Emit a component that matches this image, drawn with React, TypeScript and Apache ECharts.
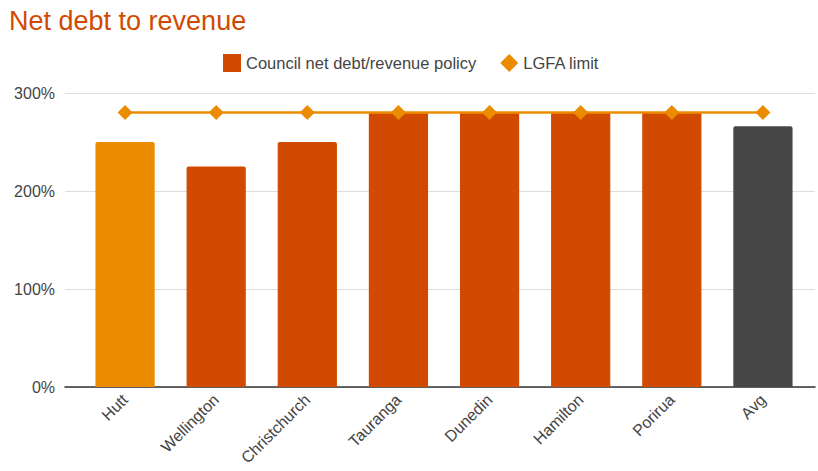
import React, { useEffect, useRef } from "react";
import * as echarts from "echarts";

const categories = ["Hutt", "Wellington", "Christchurch", "Tauranga", "Dunedin", "Hamilton", "Porirua", "Avg"];
const policyValues = [250, 225, 250, 280, 280, 280, 280, 266];
const lgfaLimit = [280, 280, 280, 280, 280, 280, 280, 280];
const barColors = ["#eb8c00", "#d04a02", "#d04a02", "#d04a02", "#d04a02", "#d04a02", "#d04a02", "#464646"];
const yTicks = [0, 100, 200, 300];

export default function App() {
  const ref = useRef<HTMLDivElement>(null);
  useEffect(() => {
    const chart = echarts.init(ref.current!, undefined, { renderer: "svg" });
    const font = "Arial, 'Liberation Sans', sans-serif";
    chart.setOption({
      animation: false,
      textStyle: { fontFamily: font },
      title: {
        text: "Net debt to revenue",
        left: 4,
        top: 2,
        textStyle: { color: "#d04a02", fontSize: 27, fontWeight: "normal", fontFamily: font },
      },
      legend: {
        top: 49,
        left: 218,
        itemWidth: 18,
        itemHeight: 18,
        itemGap: 24,
        textStyle: { color: "#444", fontSize: 16.5, fontFamily: font },
        data: [
          { name: "Council net debt/revenue policy", icon: "rect", itemStyle: { color: "#d04a02" } },
          { name: "LGFA limit", icon: "diamond", itemStyle: { color: "#eb8c00" } },
        ],
      },
      grid: [
        { left: 65, right: 3, top: 93, bottom: 84 },
        { left: 79.5, right: 9.5, top: 93, bottom: 84 },
      ],
      xAxis: [
        {
          gridIndex: 0,
          type: "value",
          min: 0,
          max: 1,
          axisLine: { show: true, lineStyle: { color: "#333", width: 1.5 } },
          axisTick: { show: false },
          axisLabel: { show: false },
          splitLine: { show: false },
        },
        {
          gridIndex: 1,
          type: "category",
          data: categories,
          axisLine: { show: false },
          axisTick: { show: false },
          axisLabel: { rotate: 45, color: "#444", fontSize: 16, margin: 10, interval: 0, fontFamily: font },
        },
      ],
      yAxis: [
        {
          gridIndex: 0,
          type: "value",
          min: 0,
          max: 300,
          interval: 100,
          axisLine: { show: false },
          axisTick: { show: false },
          axisLabel: {
            color: "#444",
            fontSize: 16,
            margin: 10,
            fontFamily: font,
            formatter: (v: number) => (yTicks.includes(v) ? v + "%" : ""),
          },
          splitLine: { lineStyle: { color: "#ddd", width: 1 } },
        },
        {
          gridIndex: 1,
          type: "value",
          min: 0,
          max: 300,
          interval: 100,
          show: false,
          splitLine: { show: false },
        },
      ],
      series: [
        {
          name: "Council net debt/revenue policy",
          type: "bar",
          xAxisIndex: 1,
          yAxisIndex: 1,
          barWidth: "65%",
          data: policyValues.map((v, i) => ({ value: v, itemStyle: { color: barColors[i], borderRadius: [2, 2, 0, 0] } })),
          itemStyle: { color: "#d04a02" },
          z: 2,
        },
        {
          name: "LGFA limit",
          type: "line",
          xAxisIndex: 1,
          yAxisIndex: 1,
          data: lgfaLimit,
          symbol: "diamond",
          symbolSize: 15,
          lineStyle: { color: "#eb8c00", width: 2.5 },
          itemStyle: { color: "#eb8c00" },
          z: 3,
        },
      ],
    });
    return () => chart.dispose();
  }, []);
  return <div ref={ref} style={{ width: 818, height: 471, position: "absolute", left: 0, top: 0, background: "#fff" }} />;
}
